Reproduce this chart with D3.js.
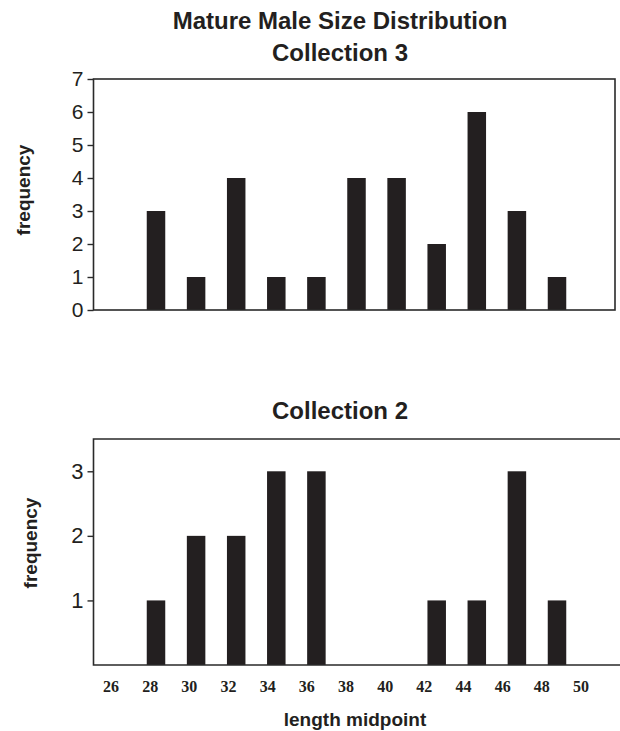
<!DOCTYPE html>
<html>
<head>
<meta charset="utf-8">
<script src="https://cdn.jsdelivr.net/npm/d3@7"></script>
<style>
  html, body { margin: 0; padding: 0; background: #fff; }
  svg { display: block; }
</style>
</head>
<body>
<svg id="chart" width="620" height="731"></svg>
<script>
// ---- data ----
const lengths = [28, 30, 32, 34, 36, 38, 40, 42, 44, 46, 48];
const collection3 = [3, 1, 4, 1, 1, 4, 4, 2, 6, 3, 1];
const collection2 = [1, 2, 2, 3, 3, 0, 0, 1, 1, 3, 1];
const xTickLabels = [26, 28, 30, 32, 34, 36, 38, 40, 42, 44, 46, 48, 50];
const topYTicks = [0, 1, 2, 3, 4, 5, 6, 7];
const bottomYTicks = [1, 2, 3];
const titleMain = "Mature Male Size Distribution";
const title3 = "Collection 3";
const title2 = "Collection 2";
const yLabel = "frequency";
const xLabel = "length midpoint";

// ---- layout ----
const svg = d3.select("#chart");
const sans = "Liberation Sans, Arial, Helvetica, sans-serif";
const serif = "Liberation Serif, Times New Roman, serif";
const ink = "#231f20";
const lineColor = "#2a2a2a";
const left = 93.5;
const barW = 18.5;

const x = d3.scaleLinear().domain([28, 48]).range([156, 557]);
const xLab = d3.scaleLinear().domain([26, 50]).range([111, 581]);

// ---- top panel ----
const yTop = d3.scaleLinear().domain([0, 7]).range([310, 79]);
const gTop = svg.append("g");

gTop.selectAll("rect.bar").data(lengths).join("rect")
  .attr("class", "bar")
  .attr("x", (d) => x(d) - barW / 2)
  .attr("width", barW)
  .attr("y", (d, i) => yTop(collection3[i]))
  .attr("height", (d, i) => yTop(0) - yTop(collection3[i]))
  .attr("fill", ink);

gTop.append("rect")
  .attr("x", left).attr("y", yTop(7))
  .attr("width", 615 - left).attr("height", yTop(0) - yTop(7))
  .attr("fill", "none").attr("stroke", lineColor).attr("stroke-width", 1.6);

const axTop = gTop.append("g")
  .attr("transform", `translate(${left},0)`)
  .call(d3.axisLeft(yTop).tickValues(topYTicks).tickSize(6).tickPadding(4).tickFormat(d3.format("d")));
axTop.select(".domain").remove();
axTop.selectAll("line").attr("stroke", lineColor).attr("stroke-width", 1.4);
axTop.selectAll("text").attr("font-family", sans).attr("font-size", 21).attr("fill", ink);

// ---- bottom panel ----
const yBot = d3.scaleLinear().domain([0, 3.5]).range([665, 439]);
const gBot = svg.append("g");

gBot.selectAll("rect.bar").data(lengths).join("rect")
  .attr("class", "bar")
  .attr("x", (d) => x(d) - barW / 2)
  .attr("width", barW)
  .attr("y", (d, i) => yBot(collection2[i]))
  .attr("height", (d, i) => yBot(0) - yBot(collection2[i]))
  .attr("fill", ink);

gBot.append("path")
  .attr("d", `M620,${yBot(3.5)}H${left}V${yBot(0)}H620`)
  .attr("fill", "none").attr("stroke", lineColor).attr("stroke-width", 1.6);

const axBot = gBot.append("g")
  .attr("transform", `translate(${left},0)`)
  .call(d3.axisLeft(yBot).tickValues(bottomYTicks).tickSize(6).tickPadding(4).tickFormat(d3.format("d")));
axBot.select(".domain").remove();
axBot.selectAll("line").attr("stroke", lineColor).attr("stroke-width", 1.4);
axBot.selectAll("text").attr("font-family", sans).attr("font-size", 22).attr("fill", ink);

// x tick labels (no tick marks)
gBot.selectAll("text.xl").data(xTickLabels).join("text")
  .attr("class", "xl")
  .attr("x", (d) => xLab(d))
  .attr("y", 692)
  .attr("text-anchor", "middle")
  .attr("font-family", serif).attr("font-weight", "bold").attr("font-size", 16)
  .attr("fill", ink)
  .text((d) => d);

// ---- titles & labels ----
const cx = 340;
function title(txt, y, size) {
  svg.append("text").attr("x", cx).attr("y", y).attr("text-anchor", "middle")
    .attr("font-family", sans).attr("font-weight", "bold").attr("font-size", size).attr("fill", ink)
    .text(txt);
}
title(titleMain, 29, 24);
title(title3, 61, 24);
title(title2, 419, 24);

svg.append("text").attr("x", 355).attr("y", 726).attr("text-anchor", "middle")
  .attr("font-family", sans).attr("font-weight", "bold").attr("font-size", 19).attr("fill", ink)
  .text(xLabel);

[[30, 190], [37, 543]].forEach(([tx, ty]) => {
  svg.append("text")
    .attr("transform", `translate(${tx},${ty}) rotate(-90)`)
    .attr("text-anchor", "middle")
    .attr("font-family", sans).attr("font-weight", "bold").attr("font-size", 19).attr("fill", ink)
    .text(yLabel);
});
</script>
</body>
</html>
